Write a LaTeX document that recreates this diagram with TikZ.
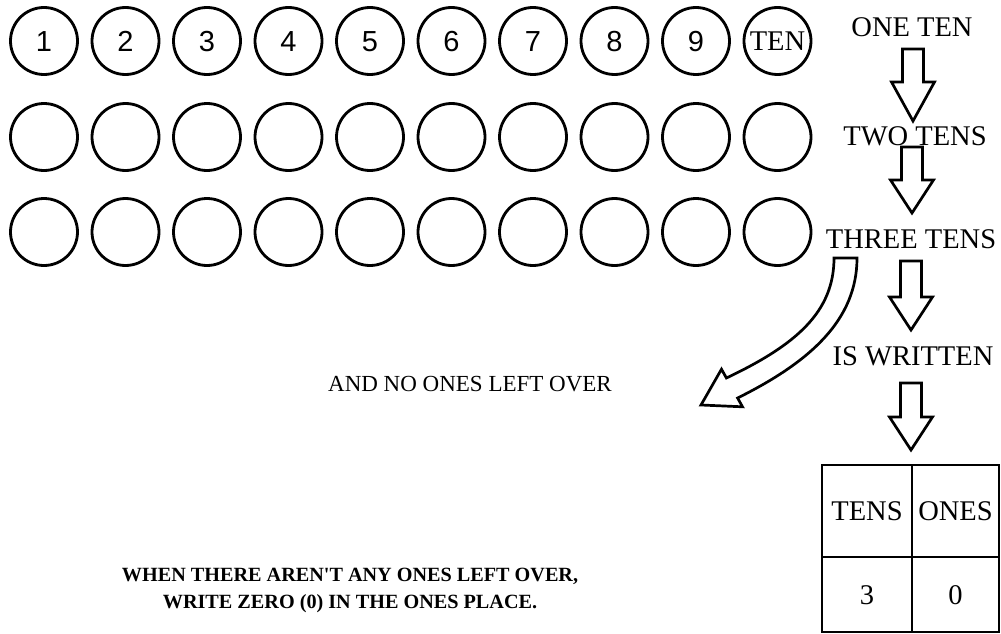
\documentclass[tikz,border=0pt]{standalone}
\usepackage{fontspec}
\setmainfont{Liberation Serif}
\newfontfamily\numfont{Liberation Sans}
\newfontfamily\qserif{Liberation Serif}
\newcommand\barrow[4]{% x, top, base, tip
  \draw[blk] (#1-10.5,#2) -- (#1+10.5,#2) -- (#1+10.5,#3) -- (#1+21.5,#3) -- (#1,#4)
     -- (#1-21.5,#3) -- (#1-10.5,#3) -- cycle;}
\begin{document}
\begin{tikzpicture}[x=1pt,y=-1pt,
  ring/.style={circle,draw,line width=2.8pt,minimum size=67pt,inner sep=0pt},
  lab/.style={font=\fontsize{28.5}{30}\selectfont,inner sep=0pt},
  num/.style={font=\numfont\fontsize{29}{30}\selectfont,text height=20.8pt,text depth=0pt},
  blk/.style={draw,line width=2.7pt,fill=white,line join=miter},
  grid/.style={draw,line width=2.2pt}]
\useasboundingbox (0,0) rectangle (1001,634);
% circles
\foreach \i in {1,...,9}
  \node[ring,num] (c1-\i) at ({44+81.5*(\i-1)},41) {\i};
\node[ring,lab,text height=18.9pt,text depth=0pt] (c1-10) at ({44+81.5*9},41) {TEN};
\foreach \r/\yy in {2/137,3/232}
  \foreach \i in {1,...,10}
    \node[ring] (c\r-\i) at ({44+81.5*(\i-1)},\yy) {};
% right column labels
\node[lab,anchor=base] (one) at (912,37) {ONE TEN};
\node[lab,anchor=base] (two) at (915,145) {TWO TENS};
\node[lab,anchor=base] (three) at (911,248) {THREE TENS};
\node[lab,anchor=base] (written) at (913,365) {IS WRITTEN};
\node[font=\fontsize{23}{25}\selectfont,inner sep=0pt,anchor=base] (left) at (470,391) {AND NO ONES LEFT OVER};
% straight block arrows
\barrow{913}{49}{82}{121}
\barrow{912}{147}{180}{213}
\barrow{911}{261}{297}{330}
\barrow{911}{383}{417}{450}
% curved block arrow
\draw[blk] (834,258) -- (857,258)
  .. controls (857,320) and (810,362) .. (737.6,398)
  -- (742.5,406.8) -- (701,405) -- (721.5,369.2) -- (726.4,378)
  .. controls (796,345) and (834,312) .. (834,258) -- cycle;
% table
\draw[grid] (822,465) rectangle (999,632);
\draw[grid] (912,465) -- (912,632);
\draw[grid] (822,557) -- (999,557);
\node[lab] (tens) at (867,511) {TENS};
\node[lab] (ones) at (955.5,511) {ONES};
\node[lab] (three-d) at (867,595) {3};
\node[lab] (zero-d) at (955.5,595) {0};
% bold note
\node[font=\qserif\bfseries\fontsize{20.2}{27}\selectfont,align=center,inner sep=0pt] (note) at (350,590)
  {WHEN THERE AREN'T ANY ONES LEFT OVER,\\WRITE ZERO (0) IN THE ONES PLACE.};
\end{tikzpicture}
\end{document}
